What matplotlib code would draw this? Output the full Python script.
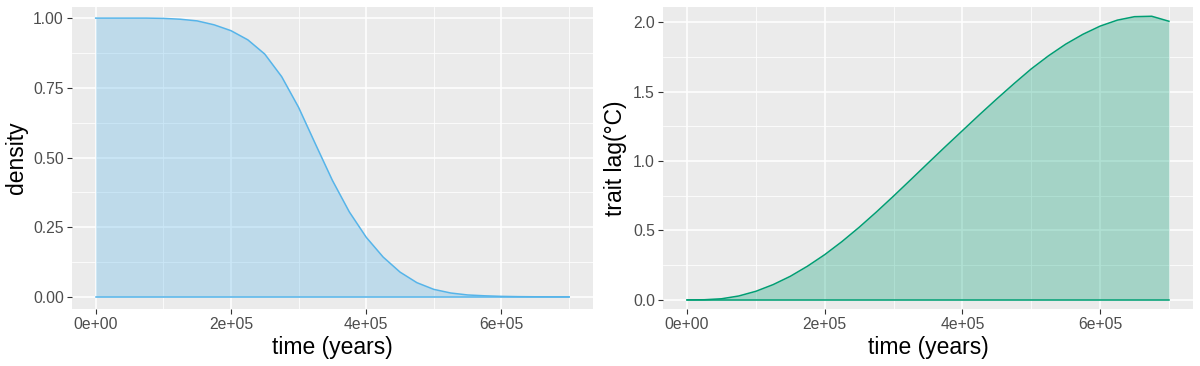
import numpy as np
import matplotlib.pyplot as plt
from matplotlib.ticker import FixedLocator

# time grid (years)
time = np.arange(0, 700001, 25000)

# population density
density = [1.000, 1.000, 1.000, 1.000, 0.999, 0.996, 0.990, 0.976, 0.955,
           0.922, 0.871, 0.790, 0.680, 0.548, 0.418, 0.305, 0.214, 0.143,
           0.089, 0.051, 0.027, 0.014, 0.007, 0.004, 0.002, 0.001, 0.0005,
           0.0002, 0.0001]

# trait lag (degC)
trait_lag = [0.000, 0.001, 0.008, 0.028, 0.062, 0.110, 0.170, 0.243, 0.326,
             0.420, 0.523, 0.633, 0.748, 0.866, 0.985, 1.103, 1.219, 1.335,
             1.448, 1.558, 1.664, 1.758, 1.842, 1.913, 1.972, 2.015, 2.040,
             2.043, 2.007]

x_ticks = [0, 200000, 400000, 600000]
x_labels = ['0e+00', '2e+05', '4e+05', '6e+05']
x_minor = [100000, 300000, 500000, 700000]

BG = '#EBEBEB'
TICK_COL = '#4D4D4D'

plt.rcParams['font.family'] = ['Liberation Sans', 'DejaVu Sans']


def style_axes(ax, yticks, ylabels, yminor, ylim, ylabel):
    ax.set_facecolor(BG)
    for s in ax.spines.values():
        s.set_visible(False)
    ax.set_axisbelow(True)
    ax.set_xlim(-35000, 735000)
    ax.set_ylim(*ylim)
    ax.xaxis.set_major_locator(FixedLocator(x_ticks))
    ax.set_xticklabels(x_labels)
    ax.xaxis.set_minor_locator(FixedLocator(x_minor))
    ax.yaxis.set_major_locator(FixedLocator(yticks))
    ax.set_yticklabels(ylabels)
    ax.yaxis.set_minor_locator(FixedLocator(yminor))
    ax.grid(which='major', color='white', linewidth=1.1)
    ax.grid(which='minor', color='white', linewidth=0.55)
    ax.tick_params(which='major', length=3.8, width=0.8, color='#333333',
                   labelsize=11.3, labelcolor=TICK_COL, pad=2)
    ax.tick_params(which='minor', length=0)
    ax.set_xlabel('time (years)', fontsize=16.5, labelpad=3)
    ax.set_ylabel(ylabel, fontsize=16.5, labelpad=4)


fig = plt.figure(figsize=(12, 3.66), dpi=100)
ax1 = fig.add_axes([0.06, 0.156, 0.434, 0.825])
ax2 = fig.add_axes([0.5525, 0.156, 0.4417, 0.825])

# left: density
c1 = '#56B4E9'
ax1.fill_between(time, 0, density, color=c1, alpha=0.3, linewidth=0)
ax1.plot(time, density, color=c1, linewidth=1.1)
ax1.plot(time, np.zeros(len(time)), color=c1, linewidth=1.1)
style_axes(ax1, [0, 0.25, 0.5, 0.75, 1.0],
           ['0.00', '0.25', '0.50', '0.75', '1.00'],
           [0.125, 0.375, 0.625, 0.875], (-0.043, 1.04), 'density')

# right: trait lag
c2 = '#009E73'
ax2.fill_between(time, 0, trait_lag, color=c2, alpha=0.3, linewidth=0)
ax2.plot(time, trait_lag, color=c2, linewidth=1.1)
ax2.plot(time, np.zeros(len(time)), color=c2, linewidth=1.1)
style_axes(ax2, [0, 0.5, 1.0, 1.5, 2.0],
           ['0.0', '0.5', '1.0', '1.5', '2.0'],
           [0.25, 0.75, 1.25, 1.75], (-0.065, 2.11), 'trait lag(°C)')

fig.savefig('out.png', dpi=100)
